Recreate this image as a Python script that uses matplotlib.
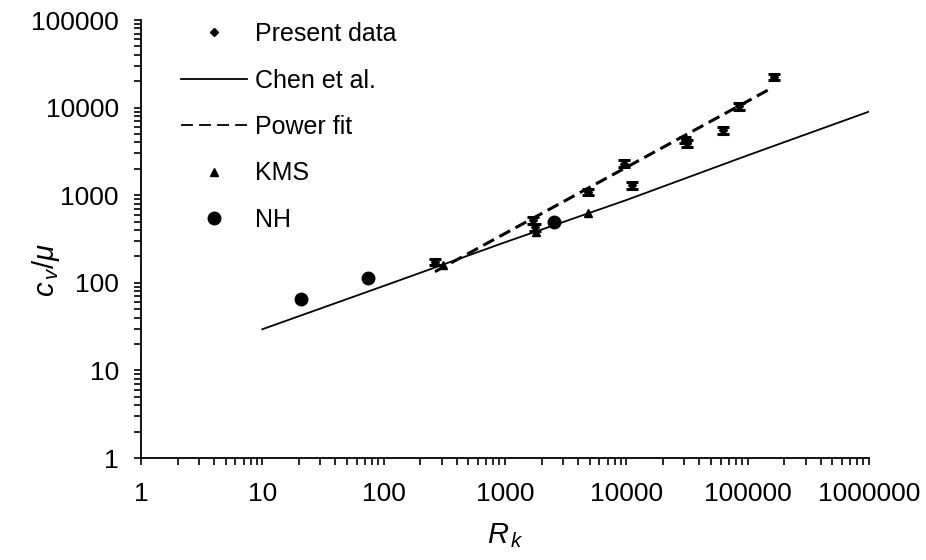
import matplotlib
matplotlib.use("Agg")
import matplotlib.pyplot as plt
from matplotlib.ticker import FixedLocator, FuncFormatter, NullFormatter
from matplotlib.lines import Line2D

# Present measurements (with error bars)
rk_present = [265, 1700, 1780, 4800, 9500, 11200, 30500, 31500, 63000, 85000, 165000]
cv_present = [173, 520, 430, 1100, 2300, 1300, 4300, 3900, 5500, 10300, 22500]
err_present = [14, 45, 35, 90, 190, 110, 350, 330, 450, 850, 1850]

# Chen et al. correlation
rk_chen = [10, 100, 1000, 10000, 100000, 1000000]
cv_chen = [29.5, 92, 290, 880, 2850, 9000]

# Power-law fit to present data
rk_fit = [265, 155000]
cv_fit = [134, 16500]

# KMS data
rk_kms = [310, 1800, 4800]
cv_kms = [158, 380, 620]

# NH data
rk_nh = [21, 74, 2550]
cv_nh = [65, 112, 494]

x_ticks = [1, 10, 100, 1000, 10000, 100000, 1000000]
y_ticks = [1, 10, 100, 1000, 10000, 100000]

plt.rcParams['font.family'] = ['Liberation Sans', 'DejaVu Sans']
plt.rcParams['mathtext.fontset'] = 'custom'
plt.rcParams['mathtext.it'] = 'Liberation Sans:italic'
plt.rcParams['mathtext.rm'] = 'Liberation Sans'

W, H = 926, 560
fig = plt.figure(figsize=(W / 100, H / 100), dpi=100)
ax = fig.add_axes([141 / W, 102 / H, 728 / W, 438 / H])

ax.plot(rk_chen, cv_chen, color='black', lw=1.3, zorder=2)
ax.plot(rk_fit, cv_fit, color='black', lw=2.2, ls=(0, (4, 2)), zorder=2)
ax.errorbar(rk_present, cv_present, yerr=err_present, fmt='D', ms=4, color='black',
            ecolor='black', elinewidth=2, capsize=4.5, capthick=2.2, zorder=3)
ax.plot(rk_kms, cv_kms, '^', color='black', ms=5.5, zorder=3)
ax.plot(rk_nh, cv_nh, 'o', color='black', ms=9, zorder=3)

ax.set_xscale('log')
ax.set_yscale('log')
ax.set_xlim(1, 1000000)
ax.set_ylim(1, 100000)

for s in ('top', 'right'):
    ax.spines[s].set_visible(False)
for s in ('left', 'bottom'):
    ax.spines[s].set_linewidth(1.3)

minor_x = [m * 10 ** e for e in range(0, 6) for m in range(2, 10)]
minor_y = [m * 10 ** e for e in range(0, 5) for m in range(2, 10)]
ax.xaxis.set_major_locator(FixedLocator(x_ticks))
ax.yaxis.set_major_locator(FixedLocator(y_ticks))
ax.xaxis.set_minor_locator(FixedLocator(minor_x))
ax.yaxis.set_minor_locator(FixedLocator(minor_y))
fmt = FuncFormatter(lambda v, p: f"{int(round(v))}")
ax.xaxis.set_major_formatter(fmt)
ax.yaxis.set_major_formatter(fmt)
ax.xaxis.set_minor_formatter(NullFormatter())
ax.yaxis.set_minor_formatter(NullFormatter())
ax.tick_params(which='both', direction='out', length=5, width=1.2, color='black')
ax.tick_params(axis='x', which='major', labelsize=19, pad=12)
ax.tick_params(axis='y', which='major', labelsize=19, pad=11)

ax.set_xlabel(r'$R_{\,k}$', fontsize=21)
ax.set_ylabel(r'$c_{\,v}/\mu$', fontsize=21)
ax.xaxis.set_label_coords(0.5, -0.145)
ax.yaxis.set_label_coords(-0.108, 0.43)

handles = [
    Line2D([], [], ls='none', marker='D', ms=4, color='black'),
    Line2D([], [], color='black', lw=1.3),
    Line2D([], [], color='black', lw=1.3, ls=(0, (6.6, 3.4))),
    Line2D([], [], ls='none', marker='^', ms=5.5, color='black'),
    Line2D([], [], ls='none', marker='o', ms=9, color='black'),
]
labels = ['Present data', 'Chen et al.', 'Power fit', 'KMS', 'NH']
leg = fig.legend(handles, labels, loc='upper left', bbox_to_anchor=(181 / W, 1 - 22 / H),
                 frameon=False, fontsize=18, handlelength=2.64, handletextpad=0.32,
                 labelspacing=0.9, borderaxespad=0, borderpad=0)

fig.savefig('out.png', dpi=100)
